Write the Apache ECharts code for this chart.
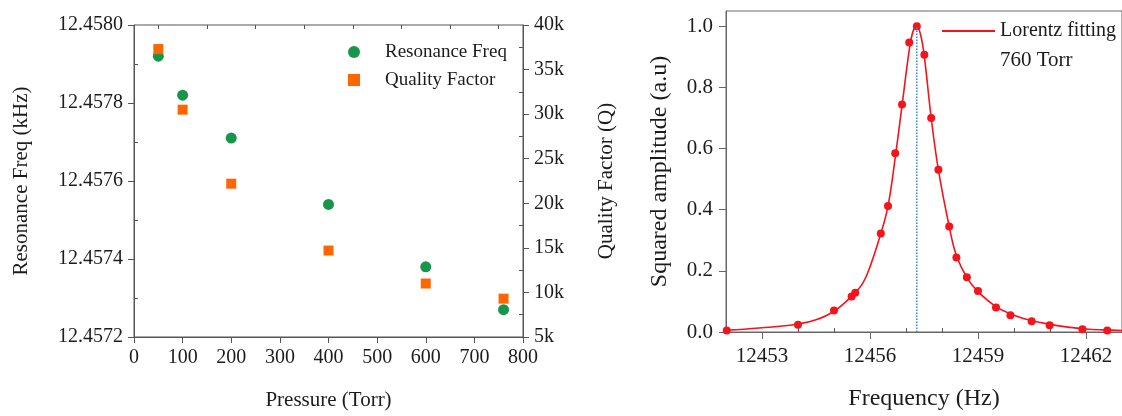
<!DOCTYPE html>
<html>
<head>
<meta charset="utf-8">
<script src="https://cdn.jsdelivr.net/npm/echarts@6/dist/echarts.min.js"></script>
<style>
  html, body { margin: 0; padding: 0; background: #fff; }
  #chart { width: 1122px; height: 416px; }
</style>
</head>
<body>
<div id="chart"></div>
<script>
// left panel: pressure sweep
const pressure = [50, 100, 200, 400, 600, 760];
const resonanceFreq = [12.45792, 12.45782, 12.45771, 12.45754, 12.45738, 12.45727];
const qualityFactor = [37300, 30500, 22200, 14700, 11000, 9300];
const freqTicks = [12.4572, 12.4574, 12.4576, 12.4578, 12.458];
const freqMinorTicks = [12.4573, 12.4575, 12.4577, 12.4579];
const qMinorTicks = [7500, 12500, 17500, 22500, 27500, 32500, 37500];
const pressureMinorTicks = [50, 150, 250, 350, 450, 550, 650, 750];

// right panel: 760 Torr frequency sweep
const sweepFreq = [12452.02, 12454.0, 12455.0, 12455.49, 12455.59, 12456.3, 12456.5, 12456.7, 12456.89, 12457.09,
  12457.3, 12457.51, 12457.7, 12457.9, 12458.2, 12458.4, 12458.69, 12459.0, 12459.5, 12459.9,
  12460.49, 12460.99, 12461.9, 12462.59];
const sweepAmp = [0.005, 0.024, 0.070, 0.116, 0.128, 0.322, 0.412, 0.585, 0.744, 0.947,
  1.0, 0.907, 0.70, 0.531, 0.345, 0.244, 0.179, 0.134, 0.080, 0.055,
  0.035, 0.022, 0.009, 0.005];
const fitFreq = [12452.0, 12452.5, 12453.0, 12453.5, 12454.0, 12454.5, 12455.0, 12455.5, 12455.8, 12456.0,
  12456.3, 12456.5, 12456.7, 12456.9, 12457.1, 12457.2, 12457.3, 12457.4, 12457.5, 12457.7,
  12457.9, 12458.2, 12458.4, 12458.7, 12459.0, 12459.5, 12460.0, 12460.5, 12461.0, 12461.5,
  12462.0, 12462.5, 12463.0];
const fitAmp = [0.006, 0.009, 0.014, 0.019, 0.026, 0.040, 0.068, 0.118, 0.160, 0.213,
  0.322, 0.412, 0.570, 0.750, 0.930, 0.985, 1.0, 0.975, 0.910, 0.700,
  0.530, 0.345, 0.250, 0.176, 0.132, 0.083, 0.055, 0.037, 0.025, 0.016,
  0.010, 0.007, 0.005];
const peakFreq = 12457.3;
const sweepTicks = [12453, 12456, 12459, 12462];
const sweepMinorTicks = [12454, 12455, 12457, 12458, 12460, 12461];
const ampTicks = [0, 0.2, 0.4, 0.6, 0.8, 1.0];
const ampMinorTicks = [0.1, 0.3, 0.5, 0.7, 0.9];

const font = "'Liberation Serif', 'DejaVu Serif', serif";
const ink = '#1c1c1c';
const axisColor = '#555';

const zip = (xs, ys) => xs.map((x, i) => [x, ys[i]]);

// overlay axis that only draws extra (minor) ticks
function minorAxis(extra, values, inside, len) {
  return Object.assign({
    type: 'value',
    axisLine: { show: false },
    axisLabel: { show: false },
    splitLine: { show: false },
    axisTick: { show: true, inside: inside, length: len, customValues: values, lineStyle: { color: axisColor } }
  }, extra);
}

const option = {
  animation: false,
  textStyle: { fontFamily: font, color: ink },
  grid: [
    { left: 134, right: 599, top: 25, bottom: 76, show: true, borderColor: axisColor, borderWidth: 1 },
    { left: 726, right: -5, top: 11, bottom: 80, show: true, borderColor: '#666', borderWidth: 1 }
  ],
  legend: [
    {
      data: ['Resonance Freq', 'Quality Factor'],
      orient: 'vertical', left: 348, top: 42, padding: 0,
      itemWidth: 12, itemHeight: 12, itemGap: 8,
      textStyle: { fontFamily: font, fontSize: 19, color: ink, lineHeight: 20, padding: [0, 0, 0, 20] }
    },
    {
      data: [{ name: 'Lorentz fitting', icon: 'rect' }],
      left: 942, top: 21, padding: 0,
      itemWidth: 53, itemHeight: 2, itemGap: 5,
      textStyle: { fontFamily: font, fontSize: 20, color: ink }
    }
  ],
  graphic: [
    { type: 'text', left: 1000, top: 50, style: { text: '760 Torr', font: '21px ' + font, fill: ink } }
  ],
  xAxis: [
    {
      type: 'value', gridIndex: 0, min: 0, max: 800, interval: 100,
      name: 'Pressure (Torr)', nameLocation: 'middle', nameGap: 53,
      nameTextStyle: { fontSize: 21, color: ink },
      axisLine: { lineStyle: { color: axisColor } },
      axisTick: { show: true, length: 6, lineStyle: { color: axisColor } },
      axisLabel: { fontSize: 20, color: ink, margin: 11 },
      splitLine: { show: false }
    },
    minorAxis({ gridIndex: 0, min: 0, max: 800 }, pressureMinorTicks, true, 4),
    {
      type: 'value', gridIndex: 1, min: 12452, max: 12463,
      name: 'Frequency (Hz)', nameLocation: 'middle', nameGap: 55,
      nameTextStyle: { fontSize: 24, color: ink },
      axisLine: { lineStyle: { color: '#666' } },
      axisTick: { show: true, length: 7, customValues: sweepTicks, lineStyle: { color: '#666' } },
      axisLabel: { fontSize: 21, color: ink, margin: 14, customValues: sweepTicks, formatter: v => String(v) },
      splitLine: { show: false }
    },
    minorAxis({ gridIndex: 1, min: 12452, max: 12463 }, sweepMinorTicks, false, 4)
  ],
  yAxis: [
    {
      type: 'value', gridIndex: 0, position: 'left', min: 12.4572, max: 12.458,
      name: 'Resonance Freq (kHz)', nameLocation: 'middle', nameGap: 102, nameRotate: 90,
      nameTextStyle: { fontSize: 21, color: ink },
      axisLine: { show: true, lineStyle: { color: axisColor } },
      axisTick: { show: true, length: 6, customValues: freqTicks, lineStyle: { color: axisColor } },
      axisLabel: { fontSize: 20, color: ink, margin: 11, customValues: freqTicks, formatter: v => v.toFixed(4) },
      splitLine: { show: false }
    },
    minorAxis({ gridIndex: 0, position: 'left', min: 12.4572, max: 12.458 }, freqMinorTicks, true, 4),
    {
      type: 'value', gridIndex: 0, position: 'right', min: 5000, max: 40000, interval: 5000,
      name: 'Quality Factor (Q)', nameLocation: 'middle', nameGap: 73, nameRotate: 90,
      nameTextStyle: { fontSize: 21, color: ink },
      axisLine: { show: true, lineStyle: { color: axisColor } },
      axisTick: { show: true, length: 6, lineStyle: { color: axisColor } },
      axisLabel: { fontSize: 20, color: ink, margin: 11, formatter: v => (v / 1000) + 'k' },
      splitLine: { show: false }
    },
    minorAxis({ gridIndex: 0, position: 'right', min: 5000, max: 40000 }, qMinorTicks, true, 4),
    {
      type: 'value', gridIndex: 1, min: 0, max: 1.05,
      name: 'Squared amplitude (a.u)', nameLocation: 'middle', nameGap: 54, nameRotate: 90,
      nameTextStyle: { fontSize: 24, color: ink },
      axisLine: { show: true, lineStyle: { color: '#666' } },
      axisTick: { show: true, length: 7, customValues: ampTicks, lineStyle: { color: '#666' } },
      axisLabel: { fontSize: 21, color: ink, margin: 13, customValues: ampTicks, formatter: v => v.toFixed(1) },
      splitLine: { show: false }
    },
    minorAxis({ gridIndex: 1, min: 0, max: 1.05 }, ampMinorTicks, false, 4)
  ],
  series: [
    {
      name: 'Resonance Freq', type: 'scatter', xAxisIndex: 0, yAxisIndex: 0,
      symbol: 'circle', symbolSize: 11, itemStyle: { color: '#17964b', opacity: 1 },
      data: zip(pressure, resonanceFreq), z: 3
    },
    {
      name: 'Quality Factor', type: 'scatter', xAxisIndex: 0, yAxisIndex: 2,
      symbol: 'rect', symbolSize: 10, itemStyle: { color: '#ff6600', opacity: 1 },
      data: zip(pressure, qualityFactor), z: 4
    },
    {
      name: 'Lorentz fitting', type: 'line', xAxisIndex: 2, yAxisIndex: 4,
      data: zip(fitFreq, fitAmp), smooth: 0.4, showSymbol: false,
      lineStyle: { color: '#f4141c', width: 1.6 }, itemStyle: { color: '#f4141c' }, z: 2
    },
    {
      name: 'sweep', type: 'scatter', xAxisIndex: 2, yAxisIndex: 4,
      symbol: 'circle', symbolSize: 8, itemStyle: { color: '#f4141c', opacity: 1 },
      data: zip(sweepFreq, sweepAmp), z: 3
    },
    {
      name: 'peak', type: 'line', xAxisIndex: 2, yAxisIndex: 4,
      data: [[peakFreq, 0], [peakFreq, 1.0]], showSymbol: false,
      lineStyle: { color: '#3b82e6', width: 1.5, type: 'dotted' }, z: 4
    }
  ]
};

const myChart = echarts.init(document.getElementById('chart'));
myChart.setOption(option);
</script>
</body>
</html>
